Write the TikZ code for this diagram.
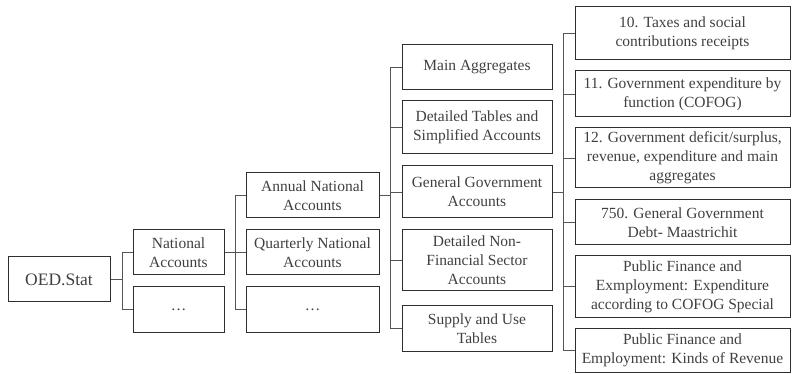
\documentclass[tikz,border=0pt]{standalone}
\usepackage{fontspec}
\setmainfont{Liberation Serif}
\usetikzlibrary{calc}
\definecolor{txt}{HTML}{404040}
\definecolor{edge}{HTML}{2E2E2E}
\definecolor{conn}{HTML}{555555}
\begin{document}
\begin{tikzpicture}[x=1pt,y=-1pt,
  box/.style={draw=edge, line width=1pt, rectangle, inner sep=0pt, align=center,
    text=txt, font=\fontsize{15.5}{19}\selectfont},
  c2/.style={box, minimum width=91pt, minimum height=45pt},
  c3/.style={box, minimum width=133pt, minimum height=45pt},
  c4/.style={box, minimum width=150pt},
  c5/.style={box, minimum width=215pt},
  link/.style={draw=conn, line width=0.9pt}]
\useasboundingbox (0,0) rectangle (793,374);
% column 1
\node[box, minimum width=102pt, minimum height=45pt, font=\fontsize{17.5}{20}\selectfont] (oed) at (59,279.5) {OED.Stat};
% column 2
\node[c2] (na) at (178.5,252.5) {National\\Accounts};
\node[c2] (d1) at (178.5,309.5) {\ldots};
% column 3
\node[c3] (ana) at (312.5,195.5) {Annual National\\Accounts};
\node[c3] (qna) at (312.5,252.5) {Quarterly National\\Accounts};
\node[c3] (d2) at (312.5,309.5) {\ldots};
% column 4
\node[c4, minimum height=45pt] (ma) at (477,67.5) {Main Aggregates};
\node[c4, minimum height=53pt] (dt) at (477,127.5) {Detailed Tables and\\Simplified Accounts};
\node[c4, minimum height=52pt] (gg) at (477,192) {General Government\\Accounts};
\node[c4, minimum height=61pt] (dn) at (477,260.5) {Detailed Non-\\Financial Sector\\Accounts};
\node[c4, minimum height=45pt] (su) at (477,328.5) {Supply and Use\\Tables};
% column 5
\node[c5, minimum height=53pt] (t10) at (682.5,33.5) {10. Taxes and social\\contributions receipts};
\node[c5, minimum height=46pt] (t11) at (682.5,94) {11. Government expenditure by\\function (COFOG)};
\node[c5, minimum height=60pt] (t12) at (682.5,158) {12. Government deficit/surplus,\\revenue, expenditure and main\\aggregates};
\node[c5, minimum height=45pt] (t750) at (682.5,222.5) {750. General Government\\Debt- Maastrichit};
\node[c5, minimum height=61pt] (pfe) at (682.5,286.5) {Public Finance and\\Exmployment: Expenditure\\according to COFOG Special};
\node[c5, minimum height=44pt] (pfk) at (682.5,350) {Public Finance and\\Employment: Kinds of Revenue};
% connectors level 1
\draw[link] (oed.east) -- ++(12,0) coordinate (b1);
\draw[link] (b1) |- (na.west);
\draw[link] (b1) |- (d1.west);
% level 2
\draw[link] (na.east) -- (qna.west);
\coordinate (b2) at ($(na.east)+(11,0)$);
\draw[link] (b2) |- (ana.west);
\draw[link] (b2) |- (d2.west);
% level 3
\draw[link] (ana.east) -- ++(11,0) coordinate (b3);
\draw[link] (b3) |- (ma.west);
\draw[link] (b3) |- (dt.west);
\draw[link] (b3) |- (gg.west);
\draw[link] (b3) |- (dn.west);
\draw[link] (b3) |- (su.west);
% level 4
\draw[link] (gg.east) -- ++(11,0) coordinate (b4);
\draw[link] (b4) |- (t10.west);
\draw[link] (b4) |- (t11.west);
\draw[link] (b4) |- (t12.west);
\draw[link] (b4) |- (t750.west);
\draw[link] (b4) |- (pfe.west);
\draw[link] (b4) |- (pfk.west);
\end{tikzpicture}
\end{document}
